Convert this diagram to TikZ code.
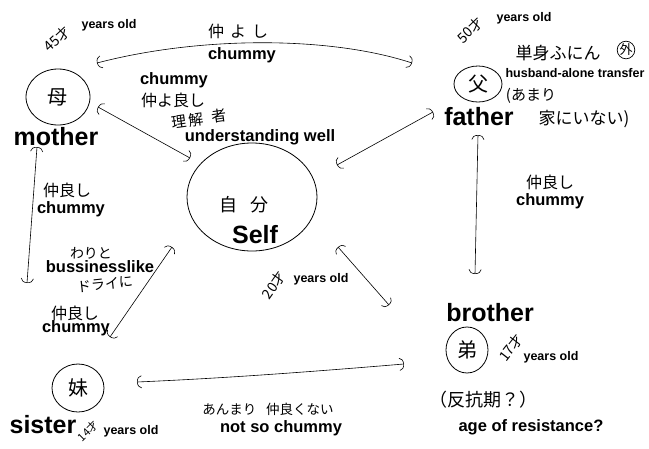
\documentclass[tikz,border=0pt]{standalone}
\usepackage{fontspec}
\setmainfont{Liberation Sans}
\newfontfamily\jp{Noto Sans CJK JP}
\usetikzlibrary{arrows.meta,shapes.geometric}

\begin{document}
\begin{tikzpicture}[x=1pt,y=-1pt,
 big/.style={font=\fontsize{25}{27}\selectfont\bfseries,inner sep=0pt},
 lab/.style={font=\fontsize{16.5}{18}\selectfont\bfseries,inner sep=0pt},
 small/.style={font=\fontsize{12.5}{14}\selectfont\bfseries,inner sep=0pt},
 hand/.style={font=\jp\fontsize{16}{18}\selectfont,inner sep=0pt},
 age/.style={font=\jp\fontsize{14}{15}\selectfont,inner sep=0pt},
 person/.style={draw=black,ellipse,line width=.8pt,inner sep=0pt,font=\jp\fontsize{20}{22}\selectfont},
 link/.style={{Arc Barb[length=1.6mm,width=4.5mm]}-{Arc Barb[length=1.6mm,width=4.5mm]},line width=.6pt}]
\useasboundingbox (0,0) rectangle (649,448);

\node[person,minimum width=64pt,minimum height=56pt] (mother) at (58,97) {母};
\node[big] (motherlab) at (56,137) {mother};
\node[age,rotate=43] (motherage) at (57,39) {45才};
\node[small] (motheryrs) at (109,25) {years old};

\node[person,minimum width=48pt,minimum height=36pt] (father) at (478,84) {父};
\node[big] (fatherlab) at (479,117) {father};
\node[age,rotate=44] (fatherage) at (470,30) {50才};
\node[small] (fatheryrs) at (524,18) {years old};
\node[hand,font=\jp\fontsize{17}{18}\selectfont] (transferjp) at (558,53) {単身ふにん};
\node[draw,circle,line width=.7pt,inner sep=2.5pt,hand,font=\jp\fontsize{13}{14}\selectfont] (abroad) at (626,50) {外};
\node[small] (transfer) at (575,73) {husband-alone transfer};
\node[hand,font=\jp\fontsize{15}{16}\selectfont] (notathome1) at (531,96) {(あまり};
\node[hand,font=\jp\fontsize{17}{18}\selectfont] (notathome2) at (584,119) {家にいない)};

\node[person,minimum width=130pt,minimum height=108pt] (self) at (252,197) {};
\node[hand,font=\jp\fontsize{18}{20}\selectfont] (selfjp) at (244,205) {自\hspace{14pt}分};
\node[big] (selflab) at (255,235) {Self};
\node[age,rotate=55] (selfage) at (274,285) {20才};
\node[small] (selfyrs) at (321,279) {years old};

\node[big] (brotherlab) at (490,313) {brother};
\node[person,minimum width=42pt,minimum height=46pt] (brother) at (467,350) {弟};
\node[age,rotate=52] (brotherage) at (511,348) {17才};
\node[small] (brotheryrs) at (551,357) {years old};
\node[hand,font=\jp\fontsize{18}{20}\selectfont] (resistjp) at (483,400) {（反抗期？）};
\node[lab] (resist) at (531,427) {age of resistance?};

\node[person,minimum width=52pt,minimum height=48pt] (sister) at (78,388) {妹};
\node[big] (sisterlab) at (43,425) {sister};
\node[age,rotate=45,font=\jp\fontsize{11}{12}\selectfont] (sisterage) at (88,431) {14才};
\node[small] (sisteryrs) at (131,431) {years old};

\node[hand] (mfjp) at (238,31) {仲\hspace{6pt}よ\hspace{6pt}し};
\node[lab] (mf) at (242,55) {chummy};
\node[lab] (ms) at (174,80) {chummy};
\node[hand] (msjp) at (173,100) {仲よ良し};
\node[hand,rotate=8,font=\jp\fontsize{15}{16}\selectfont] (msjp2) at (199,119) {理\,解\hspace{8pt}者};
\node[lab] (msund) at (260,137) {understanding well};
\node[hand] (fbjp) at (550,182) {仲良し};
\node[lab] (fb) at (550,201) {chummy};
\node[hand] (msisjp) at (67,190) {仲良し};
\node[lab] (msis) at (71,209) {chummy};
\node[hand,font=\jp\fontsize{14}{16}\selectfont] (sisjp1) at (91,253) {わりと};
\node[lab] (sis) at (100,267) {bussinesslike};
\node[hand,rotate=6,font=\jp\fontsize{14}{16}\selectfont] (sisjp2) at (105,284) {ドライに};
\node[hand] (sisjp3) at (75,313) {仲良し};
\node[lab] (sis2) at (76,328) {chummy};
\node[hand,font=\jp\fontsize{13.5}{15}\selectfont] (sbjp) at (268,409) {あんまり\hspace{10pt}仲良くない};
\node[lab] (sb) at (281,428) {not so chummy};

\coordinate (mf1) at (97,63);   \coordinate (mf2) at (412,63);
\coordinate (ms1) at (98,107);  \coordinate (ms2) at (190,158);
\coordinate (fs1) at (337,165); \coordinate (fs2) at (433,112);
\coordinate (fb1) at (478,135); \coordinate (fb2) at (475,274);
\coordinate (mi1) at (37,147);  \coordinate (mi2) at (27,283);
\coordinate (is1) at (110,337); \coordinate (is2) at (172,247);
\coordinate (sb1) at (338,247); \coordinate (sb2) at (389,305);
\coordinate (ib1) at (137,382); \coordinate (ib2) at (404,364);

\draw[link] (mf1) .. controls (200,36) and (330,36) .. (mf2);
\draw[link] (ms1) -- (ms2);
\draw[link] (fs1) -- (fs2);
\draw[link] (fb1) -- (fb2);
\draw[link] (mi1) -- (mi2);
\draw[link] (is1) -- (is2);
\draw[link] (sb1) -- (sb2);
\draw[link] (ib1) .. controls (230,378) and (320,371) .. (ib2);
\end{tikzpicture}
\end{document}
